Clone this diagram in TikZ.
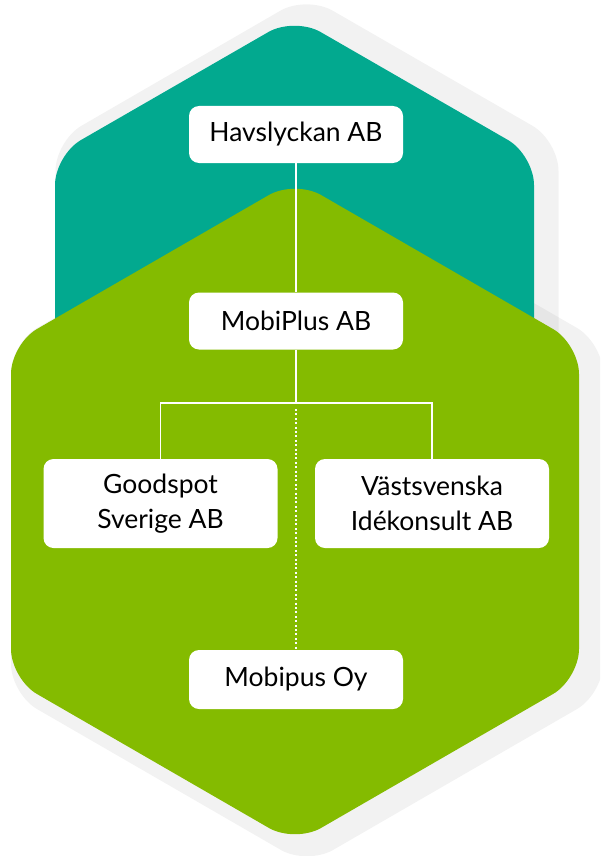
\documentclass[tikz,border=0pt]{standalone}
\usepackage{fontspec}
\setmainfont{Lato}
\definecolor{hexteal}{HTML}{02A98F}
\definecolor{hexgreen}{HTML}{84BB00}

\begin{document}
\begin{tikzpicture}[x=1pt,y=-1pt,
  firm/.style={fill=white,rounded corners=10pt,minimum width=214pt,minimum height=57pt,
    inner sep=0pt,align=center,font=\fontsize{26.5}{35}\selectfont},
  firmwide/.style={firm,minimum width=234pt,minimum height=89pt},
  link/.style={draw=white,line width=1.5pt},
  hex/.style={rounded corners=30pt},
  shade/.style={hex,fill=black,fill opacity=0.05}]
  \useasboundingbox (0,0) rectangle (600,856);
  \clip (0,0) rectangle (600,856);
  \fill[shade] (55.5,286) -- (55.5,140.8) -- (306.5,-4.4) -- (558.5,140.8) -- (558.5,432.2) -- (306.5,577.4) -- (55.5,432.2) -- cycle;
  \fill[shade] (11,520) -- (11,343) -- (307,172) -- (603,343) -- (603,694) -- (307,865) -- (11,694) -- cycle;
  \fill[hex,hexteal] (55,293) -- (55,155) -- (294.5,17) -- (534,155) -- (534,432) -- (294.5,570) -- (55,432) -- cycle;
  \fill[hex,hexgreen] (11,511) -- (11,344) -- (295,180) -- (579,344) -- (579,679) -- (295,843) -- (11,679) -- cycle;

  \node[firm] (hav) at (296,134.5) {Havslyckan AB};
  \node[firm] (mobi) at (296,321) {MobiPlus AB};
  \node[firmwide] (goodspot) at (160.5,503.5) {Goodspot\\Sverige AB};
  \node[firmwide] (vast) at (432,503.5) {Västsvenska\\Idékonsult AB};
  \node[firm,minimum height=59pt] (mobipus) at (296,679.5) {Mobipus Oy};

  \coordinate (fork) at (296,403);
  \coordinate (dotstart) at (296,409);
  \draw[link] (hav) -- (mobi);
  \draw[link] (mobi) -- (fork) -| (goodspot);
  \draw[link] (fork) -| (vast);
  \draw[link,line width=2pt,dash pattern=on 2pt off 2.4pt] (dotstart) -- (mobipus);
\end{tikzpicture}
\end{document}
